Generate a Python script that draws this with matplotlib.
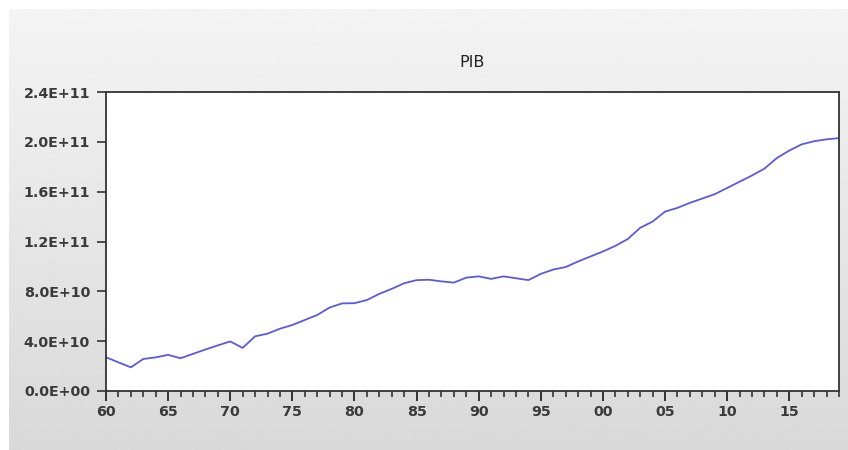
import numpy as np
import matplotlib
matplotlib.use("Agg")
import matplotlib.pyplot as plt
from matplotlib.ticker import FuncFormatter, MultipleLocator

# Annual GDP (PIB), 1960-2019, in units of 1e9
years = list(range(1960, 2020))
pib_bn = [
    27.1, 23.0, 19.0, 25.7, 27.0, 29.0, 26.3, 29.8, 33.3, 36.6,
    39.8, 34.6, 43.9, 46.0, 50.0, 53.0, 57.0, 61.0, 67.0, 70.3,
    70.5, 73.0, 78.0, 82.0, 86.5, 89.0, 89.3, 88.0, 87.0, 91.0,
    92.0, 90.0, 92.0, 90.5, 89.0, 94.0, 97.5, 99.5, 104.0, 108.0,
    112.0, 116.5, 122.0, 131.0, 136.0, 144.0, 147.0, 151.0, 154.5, 158.0,
    163.0, 168.0, 173.0, 178.5, 187.0, 193.0, 198.0, 200.5, 202.0, 203.0,
]
pib = np.array(pib_bn) * 1e9
y_ticks = [0.0, 4.0e10, 8.0e10, 1.2e11, 1.6e11, 2.0e11, 2.4e11]
title = "PIB"

plt.rcParams["font.family"] = ["DejaVu Sans"]

fig = plt.figure(figsize=(8.48, 4.5), dpi=100, facecolor="white")

# Gray gradient panel behind the chart
bg = fig.add_axes([9 / 848, 0, 1 - 9 / 848, 1 - 9 / 450], zorder=-10)
grad = np.linspace(0.955, 0.85, 256).reshape(-1, 1)
bg.imshow(grad, cmap="gray", vmin=0, vmax=1, aspect="auto",
          extent=[0, 1, 0, 1], interpolation="bicubic")
bg.set_axis_off()

ax = fig.add_axes([106 / 848, 1 - 391 / 450, (839 - 106) / 848, (391 - 92) / 450])
ax.set_facecolor("white")
ax.plot(years, pib, color="#5a5ae0", lw=1.3)

ax.set_xlim(1960, 2019)
ax.set_ylim(0, 2.4e11)
ax.set_yticks(y_ticks)
ax.yaxis.set_major_formatter(FuncFormatter(lambda v, p: f"{v:.1E}"))
ax.xaxis.set_major_locator(MultipleLocator(5))
ax.xaxis.set_minor_locator(MultipleLocator(1))
ax.xaxis.set_major_formatter(FuncFormatter(lambda v, p: f"{int(round(v)) % 100:02d}"))

for s in ax.spines.values():
    s.set_color("#333333")
    s.set_linewidth(1.3)

ax.tick_params(axis="y", direction="out", length=6.5, width=1.2, colors="#333333",
               labelsize=10.3, pad=5, labelcolor="#3a3a3a")
ax.tick_params(axis="x", which="major", direction="out", length=7.2, width=1.4,
               colors="#333333", labelsize=10.3, pad=3, labelcolor="#3a3a3a")
ax.tick_params(axis="x", which="minor", direction="out", length=4.3, width=1.2,
               colors="#333333")
for lbl in ax.get_xticklabels() + ax.get_yticklabels():
    lbl.set_fontweight("bold")

ax.set_title(title, fontsize=11.5, color="#222222", pad=18)

fig.savefig("out.png", dpi=100, facecolor=fig.get_facecolor())
